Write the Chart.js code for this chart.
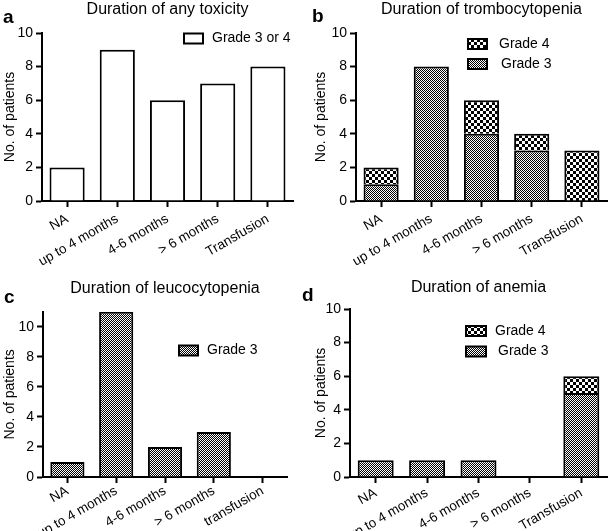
<!DOCTYPE html>
<html><head><meta charset="utf-8">
<script src="https://cdn.jsdelivr.net/npm/chart.js@4.4.0/dist/chart.umd.min.js"></script>
<style>
html,body{margin:0;padding:0;background:#fff;}
#wrap{position:relative;width:609px;height:531px;overflow:hidden;background:#fff;}
canvas{position:absolute;display:block;}
</style></head><body>
<div id="wrap">
<canvas id="ca" width="300" height="265" style="left:0;top:0;width:300px;height:265px"></canvas>
<canvas id="cb" width="309" height="265" style="left:300px;top:0;width:309px;height:265px"></canvas>
<canvas id="cc" width="300" height="266" style="left:0;top:265px;width:300px;height:266px"></canvas>
<canvas id="cd" width="309" height="266" style="left:300px;top:265px;width:309px;height:266px"></canvas>
</div>
<script>
// ---- data ----
const categories = ['NA', 'up to 4 months', '4-6 months', '> 6 months', 'Transfusion'];
const categoriesLeuco = ['NA', 'up to 4 months', '4-6 months', '> 6 months', 'transfusion'];
const anyToxGrade34 = [2, 9, 6, 7, 8];
const thrombGrade3 = [1, 8, 4, 3, 0];
const thrombGrade4 = [1, 0, 2, 1, 3];
const leucoGrade3 = [1, 11, 2, 3, 0];
const anemiaGrade3 = [1, 1, 1, 0, 5];
const anemiaGrade4 = [0, 0, 0, 0, 1];
const yTickLabels = [0, 2, 4, 6, 8, 10];

const FONT = '"Liberation Sans", Arial, Helvetica, sans-serif';
Chart.defaults.font.family = FONT;
Chart.defaults.color = '#000';

function makePattern(cell) {
  const c = document.createElement('canvas');
  c.width = cell * 2; c.height = cell * 2;
  const g = c.getContext('2d');
  g.fillStyle = '#fff'; g.fillRect(0, 0, cell * 2, cell * 2);
  g.fillStyle = '#000';
  g.fillRect(0, 0, cell, cell);
  g.fillRect(cell, cell, cell, cell);
  return document.createElement('canvas').getContext('2d').createPattern(c, 'repeat');
}
const fineP = makePattern(1);
const coarseP = makePattern(3);

const decor = {
  id: 'decor',
  afterDraw(chart, args, o) {
    const ctx = chart.ctx;
    ctx.save();
    if (o.letter) {
      ctx.font = 'bold 19px ' + FONT;
      ctx.fillStyle = '#000';
      ctx.textAlign = 'left';
      ctx.textBaseline = 'middle';
      ctx.fillText(o.letter.text, o.letter.x, o.letter.y);
    }
    if (o.legend) {
      const L = o.legend;
      let items = chart.data.datasets.slice();
      if (L.reverse) items.reverse();
      items.forEach((d, k) => {
        const cy = L.y + k * L.rowH;
        const x0 = L.x + 1, y0 = cy - L.boxH / 2 + 1, w = L.boxW - 2, h = L.boxH - 2;
        ctx.fillStyle = d.backgroundColor;
        ctx.fillRect(x0, y0, w, h);
        ctx.lineWidth = 2;
        ctx.strokeStyle = '#000';
        ctx.strokeRect(x0, y0, w, h);
        ctx.fillStyle = '#000';
        ctx.font = '14px ' + FONT;
        ctx.textAlign = 'left';
        ctx.textBaseline = 'middle';
        ctx.fillText(d.label, L.textX + (L.textDx ? L.textDx[k] : 0), cy);
      });
    }
    ctx.restore();
  }
};

function makeChart(id, cfg) {
  const stacked = cfg.datasets.length > 1;
  return new Chart(document.getElementById(id), {
    type: 'bar',
    data: {
      labels: cfg.labels,
      datasets: cfg.datasets.map(d => ({
        label: d.label, data: d.data, backgroundColor: d.bg,
        borderColor: '#000', borderWidth: 2, borderSkipped: 'start',
        barPercentage: 0.7, categoryPercentage: 1.0
      }))
    },
    options: {
      responsive: false, animation: false, devicePixelRatio: 1,
      layout: { padding: { left: 0, top: 0, right: cfg.padRight, bottom: 0 } },
      plugins: {
        legend: { display: false },
        tooltip: { enabled: false },
        title: {
          display: true, text: cfg.title, fullSize: false, color: '#000',
          font: { size: 16, weight: 'normal' },
          padding: { top: cfg.titleTop, bottom: cfg.titleBottom }
        },
        decor: { letter: cfg.letter, legend: cfg.legend }
      },
      scales: {
        x: {
          stacked: stacked,
          grid: { drawOnChartArea: false, offset: false, drawTicks: true, tickLength: 6, tickWidth: 2, tickColor: '#000' },
          border: { display: true, color: '#000', width: 2 },
          ticks: { autoSkip: false, minRotation: 30, maxRotation: 30, padding: cfg.xPad, color: '#000', font: { size: 13.5 } },
          afterFit: s => { s.height = cfg.xHeight; }
        },
        y: {
          stacked: stacked, min: 0, max: cfg.yMax,
          grid: { drawOnChartArea: false, drawTicks: true, tickLength: 6, tickWidth: 2, tickColor: '#000' },
          border: { display: true, color: '#000', width: 2 },
          ticks: {
            stepSize: 1, padding: 3, color: '#000', font: { size: 14 },
            callback: v => yTickLabels.includes(v) ? String(v) : ''
          },
          title: { display: true, text: 'No. of patients', color: '#000', font: { size: 14 }, padding: { top: cfg.yTitlePad, bottom: 0 } },
          afterFit: s => { s.width = cfg.yWidth; }
        }
      }
    },
    plugins: [decor]
  });
}

makeChart('ca', {
  labels: categories, title: 'Duration of any toxicity', yMax: 10,
  datasets: [{ label: 'Grade 3 or 4', data: anyToxGrade34, bg: '#fff' }],
  padRight: 7, titleTop: 0.4, titleBottom: 13.4, xHeight: 64, yWidth: 42, yTitlePad: 2, xPad: 4,
  letter: { text: 'a', x: 3, y: 18 },
  legend: { x: 183, y: 38.5, boxW: 21, boxH: 12, rowH: 20, textX: 212 }
});
makeChart('cb', {
  labels: categories, title: 'Duration of trombocytopenia', yMax: 10,
  datasets: [
    { label: 'Grade 3', data: thrombGrade3, bg: fineP },
    { label: 'Grade 4', data: thrombGrade4, bg: coarseP }
  ],
  padRight: 2, titleTop: 0.4, titleBottom: 13.4, xHeight: 64, yWidth: 56, yTitlePad: 13, xPad: 4,
  letter: { text: 'b', x: 12, y: 17 },
  legend: { x: 167, y: 44, boxW: 21, boxH: 12, rowH: 20, textX: 199, textDx: [0, 2], reverse: true }
});
makeChart('cc', {
  labels: categoriesLeuco, title: 'Duration of leucocytopenia', yMax: 11,
  datasets: [{ label: 'Grade 3', data: leucoGrade3, bg: fineP }],
  padRight: 13, titleTop: 14.4, titleBottom: 13.1, xHeight: 54, yWidth: 43, yTitlePad: 2, xPad: 0,
  letter: { text: 'c', x: 4, y: 33 },
  legend: { x: 178, y: 85.5, boxW: 21, boxH: 12, rowH: 20, textX: 207 }
});
makeChart('cd', {
  labels: categories, title: 'Duration of anemia', yMax: 10,
  datasets: [
    { label: 'Grade 3', data: anemiaGrade3, bg: fineP },
    { label: 'Grade 4', data: anemiaGrade4, bg: coarseP }
  ],
  padRight: 2, titleTop: 13.4, titleBottom: 11.4, xHeight: 54, yWidth: 50, yTitlePad: 13, xPad: 2,
  letter: { text: 'd', x: 2, y: 31 },
  legend: { x: 165, y: 66, boxW: 22, boxH: 12, rowH: 20.5, textX: 195, textDx: [0, 3], reverse: true }
});
</script>
</body></html>
